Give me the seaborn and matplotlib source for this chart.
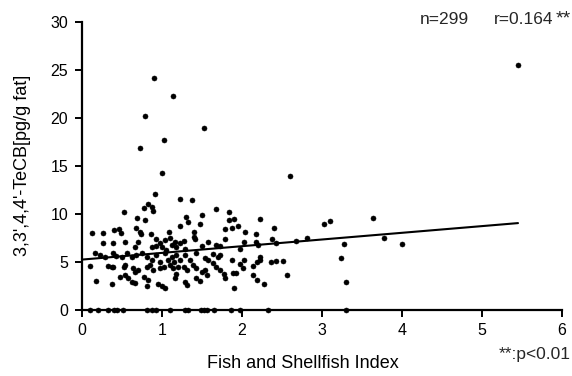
import matplotlib
matplotlib.use("Agg")
import matplotlib.pyplot as plt
import seaborn as sns
import pandas as pd

# ---- data ----
fish_index = [
    0.90, 1.14, 0.79, 1.52, 1.02, 0.73,
    1.00, 0.91, 1.23, 0.53, 0.77, 0.83, 0.88, 0.89, 0.69, 0.79,
    0.12, 0.26, 0.40, 0.46, 0.49, 0.68, 0.73, 0.74, 0.86, 1.09, 1.23,
    0.26, 0.39, 0.54, 0.70, 0.66, 0.93, 0.98, 1.04, 1.10, 1.16,
    0.87, 0.93, 1.00, 1.05, 1.12, 1.18,
    0.16, 0.22, 0.29, 0.39, 0.42, 0.50, 0.56, 0.62, 0.68, 0.75, 0.81, 0.93, 1.04, 1.12, 1.18,
    0.87, 0.98, 1.08,
    0.10, 0.33, 0.37, 0.39, 0.54, 0.52, 0.64, 0.66, 0.70, 0.81, 0.85, 0.89, 0.98, 1.02, 1.10, 1.14, 1.20,
    0.48, 0.54, 0.58, 0.62, 0.66, 0.77, 0.81, 0.83, 0.95, 1.00, 1.04, 1.16, 0.18, 0.38,
    1.37, 1.68, 1.84, 1.30, 1.33, 1.50, 1.48, 1.84, 1.90, 2.22,
    1.79, 1.87, 1.95, 1.40, 1.40, 1.41, 2.04, 2.18, 1.79, 1.57, 2.02, 2.17, 2.20,
    1.23, 1.27, 1.50, 1.68, 1.72, 1.98, 1.29,
    1.64, 1.70, 1.73, 1.54, 1.58, 1.87, 2.02, 1.98, 2.22, 2.23, 2.19, 2.14,
    1.64, 1.68, 1.73, 1.77, 1.89, 1.93, 2.01, 1.54, 1.50, 1.56, 1.43, 1.48, 1.29, 1.31,
    1.79, 2.14, 2.19, 2.27, 1.90,
    1.15, 1.23, 1.27, 1.31, 1.35, 1.39, 1.43, 1.29, 1.43, 1.18,
    2.60, 2.40, 2.38, 2.43, 2.67, 2.81, 3.03, 3.10, 3.64, 3.77, 3.28, 4.00,
    3.24, 3.30, 2.36, 2.43, 2.51, 2.56,
    5.45,
    0.10, 0.20, 0.33, 0.40, 0.44, 0.51, 0.81, 0.88, 0.92, 1.10, 1.29, 1.33,
    1.49, 1.52, 1.56, 1.65, 1.86, 1.97, 2.33, 3.30,
]
tecb = [
    24.1, 22.2, 20.2, 18.9, 17.7, 16.8,
    14.25, 12.0, 11.5, 10.2, 10.6, 10.95, 10.7, 10.3, 9.5, 9.3,
    8.0, 8.0, 8.3, 8.35, 8.0, 8.45, 8.1, 7.9, 7.9, 8.1, 8.7,
    6.9, 6.9, 7.05, 7.05, 6.5, 7.3, 6.95, 7.25, 7.4, 7.05,
    6.5, 6.6, 6.5, 6.2, 6.7, 6.5,
    5.85, 5.7, 5.5, 5.85, 5.6, 5.45, 5.85, 5.5, 5.7, 5.85, 5.5, 5.7, 5.85, 5.5, 5.7,
    5.15, 5.0, 5.15,
    4.5, 4.5, 4.4, 4.45, 4.6, 4.4, 4.3, 3.95, 4.1, 4.45, 4.6, 4.1, 4.3, 4.45, 4.6, 4.3, 4.45,
    3.4, 3.6, 3.25, 2.9, 2.8, 3.4, 2.4, 3.1, 2.7, 2.45, 2.2, 3.25, 3.0, 2.65,
    11.4, 10.45, 10.2, 9.6, 9.15, 9.8, 8.9, 9.3, 9.45, 9.4,
    8.35, 8.45, 8.7, 8.1, 7.6, 7.3, 8.1, 7.9, 7.3, 7.05, 7.0, 7.05, 6.7,
    6.9, 7.15, 6.6, 6.7, 6.6, 6.3, 6.3,
    5.75, 5.5, 5.7, 5.35, 5.15, 5.15, 5.15, 4.75, 5.15, 5.45, 5.0, 4.5,
    4.8, 4.45, 4.1, 3.75, 3.85, 3.85, 4.3, 4.1, 3.95, 3.6, 3.25, 3.0, 2.9, 2.55,
    3.25, 3.6, 3.05, 2.65, 2.25,
    5.0, 5.15, 4.45, 4.1, 5.15, 4.6, 4.3, 5.7, 5.85, 3.75,
    13.95, 8.5, 7.35, 6.9, 7.15, 7.4, 8.95, 9.25, 9.55, 7.5, 6.8, 6.8,
    5.35, 2.9, 4.9, 5.05, 5.05, 3.55,
    25.5,
    0, 0, 0, 0, 0, 0, 0, 0, 0, 0, 0, 0,
    0, 0, 0, 0, 0, 0, 0, 0,
]
fit_x = [0.0, 5.45]
fit_y = [5.2, 9.0]

x_ticks = [0, 1, 2, 3, 4, 5, 6]
y_ticks = [0, 5, 10, 15, 20, 25, 30]

df = pd.DataFrame({"x": fish_index, "y": tecb})
fit = pd.DataFrame({"x": fit_x, "y": fit_y})

sns.set_theme(style="ticks")
plt.rcParams["font.family"] = ["Liberation Sans", "DejaVu Sans"]

fig = plt.figure(figsize=(5.72, 3.76), dpi=100)
ax = fig.add_axes([82/572, 66.5/376, 480/572, 288/376])

sns.scatterplot(data=df, x="x", y="y", ax=ax, color="black", s=13,
                edgecolor="black", linewidth=0.4, clip_on=False, zorder=3)
sns.lineplot(data=fit, x="x", y="y", ax=ax, color="black", linewidth=1.5)

ax.set_xlim(0, 6)
ax.set_ylim(0, 30)
ax.set_xticks(x_ticks)
ax.set_yticks(y_ticks)
ax.set_xticklabels([str(t) for t in x_ticks])
ax.set_yticklabels([str(t) for t in y_ticks])
sns.despine(ax=ax)
for s in ["left", "bottom"]:
    ax.spines[s].set_linewidth(1.6)
    ax.spines[s].set_color("black")
ax.tick_params(axis="both", direction="out", length=5, width=1.4,
               colors="black", labelsize=11.5, pad=5)

ax.set_xlabel("Fish and Shellfish Index", fontsize=13, color="black")
ax.set_ylabel("3,3',4,4'-TeCB[pg/g fat]", fontsize=13, color="black")
ax.xaxis.set_label_coords(0.46, -0.158)
ax.yaxis.set_label_coords(-0.106, 0.5)

fig.text(420/572, 1 - 20/376, "n=299", fontsize=12.5, va="center", ha="left")
fig.text(494/572, 1 - 20/376, "r=0.164", fontsize=12.5, va="center", ha="left")
fig.text(571/572, 1 - 19/376, "**", fontsize=14, va="center", ha="right")
fig.text(571/572, 1 - 355/376, "**:p<0.01", fontsize=12.5, va="center", ha="right")

fig.savefig("out.png", dpi=100)
